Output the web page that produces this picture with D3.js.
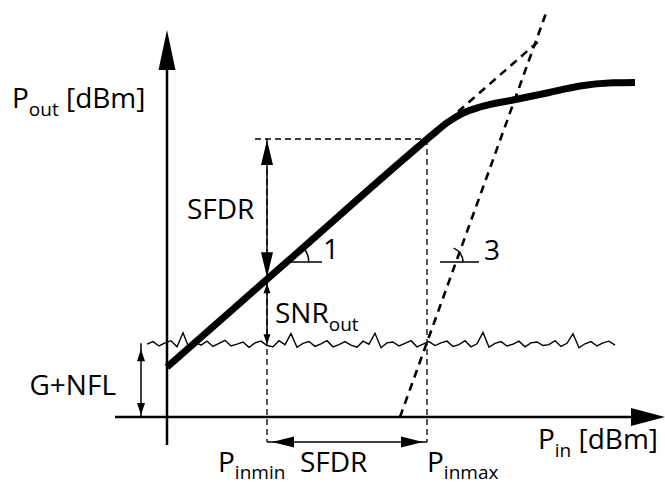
<!DOCTYPE html>
<html>
<head>
<meta charset="utf-8">
<script src="https://cdn.jsdelivr.net/npm/d3@7"></script>
<style>
  html, body { margin: 0; padding: 0; background: #fff; }
  svg { display: block; }
  text { font-family: "Open Sans", "Noto Sans", sans-serif; fill: #000; }
</style>
</head>
<body>
<svg id="chart" width="665" height="486"></svg>
<script>
// ---------- data (Pin, Pout in dBm, relative units) ----------
const fundamentalPin  = [0, 25, 50, 53, 56, 59.2, 62.6, 69.2, 76, 82.6, 89.2, 93.6];
const fundamentalPout = [11.4, 36.4, 61.4, 64.3, 67.1, 69.3, 70.7, 72.3, 73.9, 75.5, 76.2, 76.3];
const linearExtPin    = [58.2, 75];
const linearExtPout   = [69.6, 86.4];
const im3Pin          = [46.6, 75.8];
const im3Pout         = [0, 92.1];
const noiseStartPin   = -4;
const noiseStepPin    = 1.2;
const noisePout = [16.6,17.2,16.2,16.9,17.4,16.0,19.2,15.8,17.0,16.4,17.3,16.1,16.8,17.5,16.2,16.6,
  17.1,15.9,16.9,17.3,16.3,16.0,17.4,16.5,19.0,15.9,16.8,17.2,16.1,16.7,17.4,16.0,16.5,17.2,16.4,15.9,
  17.3,16.6,19.1,15.8,16.9,17.1,16.2,16.8,17.4,16.0,16.6,17.2,16.3,16.9,17.3,16.1,16.5,17.4,16.0,16.7,
  19.3,15.9,16.8,17.2,16.2,16.6,17.3,16.0,16.9,17.1,16.3,16.5,17.4,16.1,16.8,19.0,15.8,16.7,17.2,16.2,
  16.9,17.3,16.4];
const noiseFloor = 16.6;
const pinMin = 20, pinMax = 52;
const poutMax = 63.4;          // Pout at Pinmax
const poutAtPinMin = 31.4;     // Pout at Pinmin
const slope1Pin = [23.95, 31], slope1Pout = 35.35;
const slope3Pin = [56.2, 62.4], slope3Pout = 35.35;
const gnflPin = -5.2;

// ---------- scales ----------
const x = d3.scaleLinear().domain([0, 100]).range([167, 667]);
const y = d3.scaleLinear().domain([0, 100]).range([417, -21.5]);

const svg = d3.select("#chart");

function arrowHead(tipX, tipY, dx, dy, len, hw) {
  const bx = tipX - dx * len, by = tipY - dy * len;
  const px = -dy, py = dx;
  svg.append("polygon")
    .attr("points", [[tipX, tipY], [bx + px * hw, by + py * hw], [bx - px * hw, by - py * hw]].map(p => p.join(",")).join(" "))
    .attr("fill", "#000");
}

// ---------- axes ----------
svg.append("line").attr("x1", x(0)).attr("x2", x(0)).attr("y1", 445).attr("y2", 50)
  .attr("stroke", "#000").attr("stroke-width", 2.5);
arrowHead(x(0), 30, 0, -1, 40, 8.5);

svg.append("line").attr("x1", 115).attr("x2", 640).attr("y1", y(0)).attr("y2", y(0))
  .attr("stroke", "#000").attr("stroke-width", 2.5);
arrowHead(665, y(0), 1, 0, 34, 9);

// ---------- dashed SFDR box ----------
const thinDash = {"stroke": "#000", "stroke-width": 1.3, "stroke-dasharray": "6,4", "fill": "none"};
function styled(sel, st) { Object.entries(st).forEach(([k, v]) => sel.attr(k, v)); return sel; }
styled(svg.append("line").attr("x1", 255).attr("x2", x(pinMax)).attr("y1", y(poutMax)).attr("y2", y(poutMax)), thinDash);
styled(svg.append("line").attr("x1", x(pinMin)).attr("x2", x(pinMin)).attr("y1", y(poutMax)).attr("y2", 442), thinDash);
styled(svg.append("line").attr("x1", x(pinMax)).attr("x2", x(pinMax)).attr("y1", y(poutMax)).attr("y2", 442), thinDash);

// ---------- noise floor ----------
const noisePts = noisePout.map((v, i) => [x(noiseStartPin + i * noiseStepPin), y(v)]);
svg.append("path").attr("d", d3.line()(noisePts))
  .attr("fill", "none").attr("stroke", "#000").attr("stroke-width", 1.4).attr("stroke-linejoin", "miter");

// ---------- IM3 and linear extension dashed lines ----------
const thickDash = {"stroke": "#000", "stroke-width": 2.6, "stroke-dasharray": "8,6", "fill": "none"};
styled(svg.append("path").attr("d", d3.line()(im3Pin.map((p, i) => [x(p), y(im3Pout[i])]))), thickDash);
styled(svg.append("path").attr("d", d3.line()(linearExtPin.map((p, i) => [x(p), y(linearExtPout[i])]))), thickDash);

// ---------- fundamental ----------
svg.append("path")
  .attr("d", d3.line().curve(d3.curveMonotoneX)(fundamentalPin.map((p, i) => [x(p), y(fundamentalPout[i])])))
  .attr("fill", "none").attr("stroke", "#000").attr("stroke-width", 7).attr("stroke-linecap", "butt");

// ---------- slope markers ----------
function slopeMarker(pins, pout, r, angDeg, cxPin) {
  const cx = x(cxPin), cy = y(pout);
  svg.append("line").attr("x1", x(pins[0])).attr("x2", x(pins[1])).attr("y1", cy).attr("y2", cy)
    .attr("stroke", "#000").attr("stroke-width", 1.5);
  const a = angDeg * Math.PI / 180;
  svg.append("path")
    .attr("d", `M${cx + r},${cy} A${r},${r} 0 0 0 ${cx + r * Math.cos(a)},${cy - r * Math.sin(a)}`)
    .attr("fill", "none").attr("stroke", "#000").attr("stroke-width", 1.5);
}
slopeMarker(slope1Pin, slope1Pout, 22, 38, slope1Pin[0]);
slopeMarker([slope3Pin[0] - 1.6, slope3Pin[1]], slope3Pout, 15, 68, slope3Pin[0]);

// ---------- SFDR vertical arrow ----------
const xa = x(pinMin);
svg.append("line").attr("x1", xa).attr("x2", xa).attr("y1", y(poutMax) + 10).attr("y2", y(poutAtPinMin) - 10)
  .attr("stroke", "#000").attr("stroke-width", 1.5);
arrowHead(xa, y(poutMax) + 1, 0, -1, 25, 6);
arrowHead(xa, y(poutAtPinMin) - 2, 0, 1, 25, 6);

// ---------- SNR arrow ----------
svg.append("line").attr("x1", xa).attr("x2", xa).attr("y1", y(poutAtPinMin) + 4).attr("y2", y(noiseFloor) - 2)
  .attr("stroke", "#000").attr("stroke-width", 1.5);
arrowHead(xa, y(poutAtPinMin) + 4, 0, -1, 10, 3.5);
arrowHead(xa, y(noiseFloor), 0, 1, 10, 3.5);

// ---------- G+NFL arrow ----------
const xg = x(gnflPin);
svg.append("line").attr("x1", xg).attr("x2", xg).attr("y1", y(noiseFloor) - 1).attr("y2", y(0))
  .attr("stroke", "#000").attr("stroke-width", 1.5);
arrowHead(xg, y(noiseFloor) + 5, 0, -1, 12, 4);
arrowHead(xg, y(0) - 2, 0, 1, 12, 4);

// ---------- bottom SFDR arrow ----------
svg.append("line").attr("x1", x(pinMin)).attr("x2", x(pinMax)).attr("y1", 442).attr("y2", 442)
  .attr("stroke", "#000").attr("stroke-width", 1.5);
arrowHead(x(pinMin) + 5, 442, -1, 0, 22, 5.5);
arrowHead(x(pinMax) - 4, 442, 1, 0, 22, 5.5);

// ---------- labels ----------
const FS = 28, SUB = 19;
function label(tx, ty, main, sub, rest, anchor, subDy) {
  const d = subDy || 8;
  const t = svg.append("text").attr("x", tx).attr("y", ty).attr("font-size", FS)
    .attr("text-anchor", anchor || "start");
  t.append("tspan").text(main);
  if (sub) t.append("tspan").attr("font-size", SUB).attr("dy", d).text(sub);
  if (rest) t.append("tspan").attr("dy", sub ? -d : 0).text(rest);
  return t;
}
label(12, 108, "P", "out", " [dBm]");
label(187, 219, "SFDR");
label(323, 259, "1");
label(484, 260, "3");
label(275, 323, "SNR", "out");
label(116, 395, "G+NFL", null, null, "end");
label(218, 472, "P", "inmin", null, null, 7);
label(300, 472, "SFDR");
label(427, 472, "P", "inmax", null, null, 7);
label(658, 449, "P", "in", " [dBm]", "end");
</script>
</body>
</html>
